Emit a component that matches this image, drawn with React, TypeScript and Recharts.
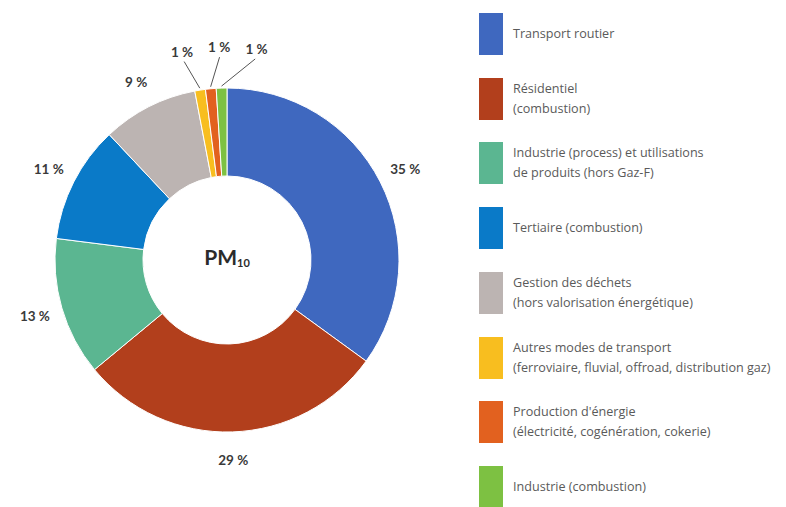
import { PieChart, Pie, Cell } from 'recharts'

const sectors = [
  'Transport routier',
  'Résidentiel\n(combustion)',
  'Industrie (process) et utilisations\nde produits (hors Gaz-F)',
  'Tertiaire (combustion)',
  'Gestion des déchets\n(hors valorisation énergétique)',
  'Autres modes de transport\n(ferroviaire, fluvial, offroad, distribution gaz)',
  "Production d'énergie\n(électricité, cogénération, cokerie)",
  'Industrie (combustion)',
]
const shares = [35, 29, 13, 11, 9, 1, 1, 1]
const colors = ['#3f68bf', '#b23f1c', '#5bb691', '#0a7ac8', '#bcb4b2', '#f8be1f', '#e2611f', '#7dc142']

const data = sectors.map((name, i) => ({ name, value: shares[i] }))

const RAD = Math.PI / 180
const FONT = 'Lato, "Open Sans", sans-serif'

// point at angle measured clockwise from 12 o'clock
function pt(cx: number, cy: number, r: number, t: number) {
  return { x: cx + r * Math.sin(t * RAD), y: cy - r * Math.cos(t * RAD) }
}

function renderLabel(props: any) {
  const { cx, cy, midAngle, outerRadius, value } = props
  let t = 90 - midAngle
  while (t > 180) t -= 360
  while (t < -180) t += 360
  const txt = `${value} %`
  if (value > 2) {
    const p = pt(cx, cy, outerRadius + 28, t)
    return (
      <text x={p.x} y={p.y} textAnchor='middle' dominantBaseline='central'
        fill='#3a3a3a' fontSize={13.5} fontWeight={700} fontFamily={FONT}>
        {txt}
      </text>
    )
  }
  // small slices: fan the labels out above the ring
  const tl = -2.1 + (t + 5.4) * 2.8
  const a = pt(cx, cy, outerRadius + 2, t)
  const b = pt(cx, cy, outerRadius + 31, tl)
  const p = pt(cx, cy, outerRadius + 41, tl)
  return (
    <g>
      <line x1={a.x} y1={a.y} x2={b.x} y2={b.y} stroke='#555' strokeWidth={1} />
      <text x={p.x} y={p.y} textAnchor='middle' dominantBaseline='central'
        fill='#3a3a3a' fontSize={13.5} fontWeight={700} fontFamily={FONT}>
        {txt}
      </text>
    </g>
  )
}

export default function App() {
  return (
    <div style={{ position: 'absolute', left: 0, top: 0, width: 786, height: 507, background: '#fff' }}>
      <PieChart width={470} height={507}>
        <Pie
          data={data}
          dataKey='value'
          cx={222}
          cy={255}
          innerRadius={84}
          outerRadius={172}
          startAngle={90}
          endAngle={-270}
          stroke='#fff'
          strokeWidth={1}
          label={renderLabel}
          labelLine={false}
          isAnimationActive={false}
        >
          {data.map((d, i) => (
            <Cell key={d.name} fill={colors[i]} />
          ))}
        </Pie>
        <text x={227} y={256} textAnchor='middle' dominantBaseline='central'
          fill='#2b2b2b' fontFamily={FONT} fontWeight={700}>
          <tspan fontSize={21}>PM</tspan>
          <tspan fontSize={11} dy={6}>10</tspan>
        </text>
      </PieChart>

      <div style={{ position: 'absolute', left: 479, top: 13 }}>
        {data.map((d, i) => (
          <div key={d.name} style={{ position: 'absolute', left: 0, top: i * 64.7, height: 42, display: 'flex', alignItems: 'center', whiteSpace: 'nowrap' }}>
            <div style={{ width: 24, height: 42, background: colors[i] }} />
            <div style={{ marginLeft: 10, fontFamily: '"Open Sans", sans-serif', fontSize: 12.6, lineHeight: '20px', color: '#5a5a5a' }}>
              {d.name.split('\n').map((l) => (
                <div key={l}>{l}</div>
              ))}
            </div>
          </div>
        ))}
      </div>
    </div>
  )
}
